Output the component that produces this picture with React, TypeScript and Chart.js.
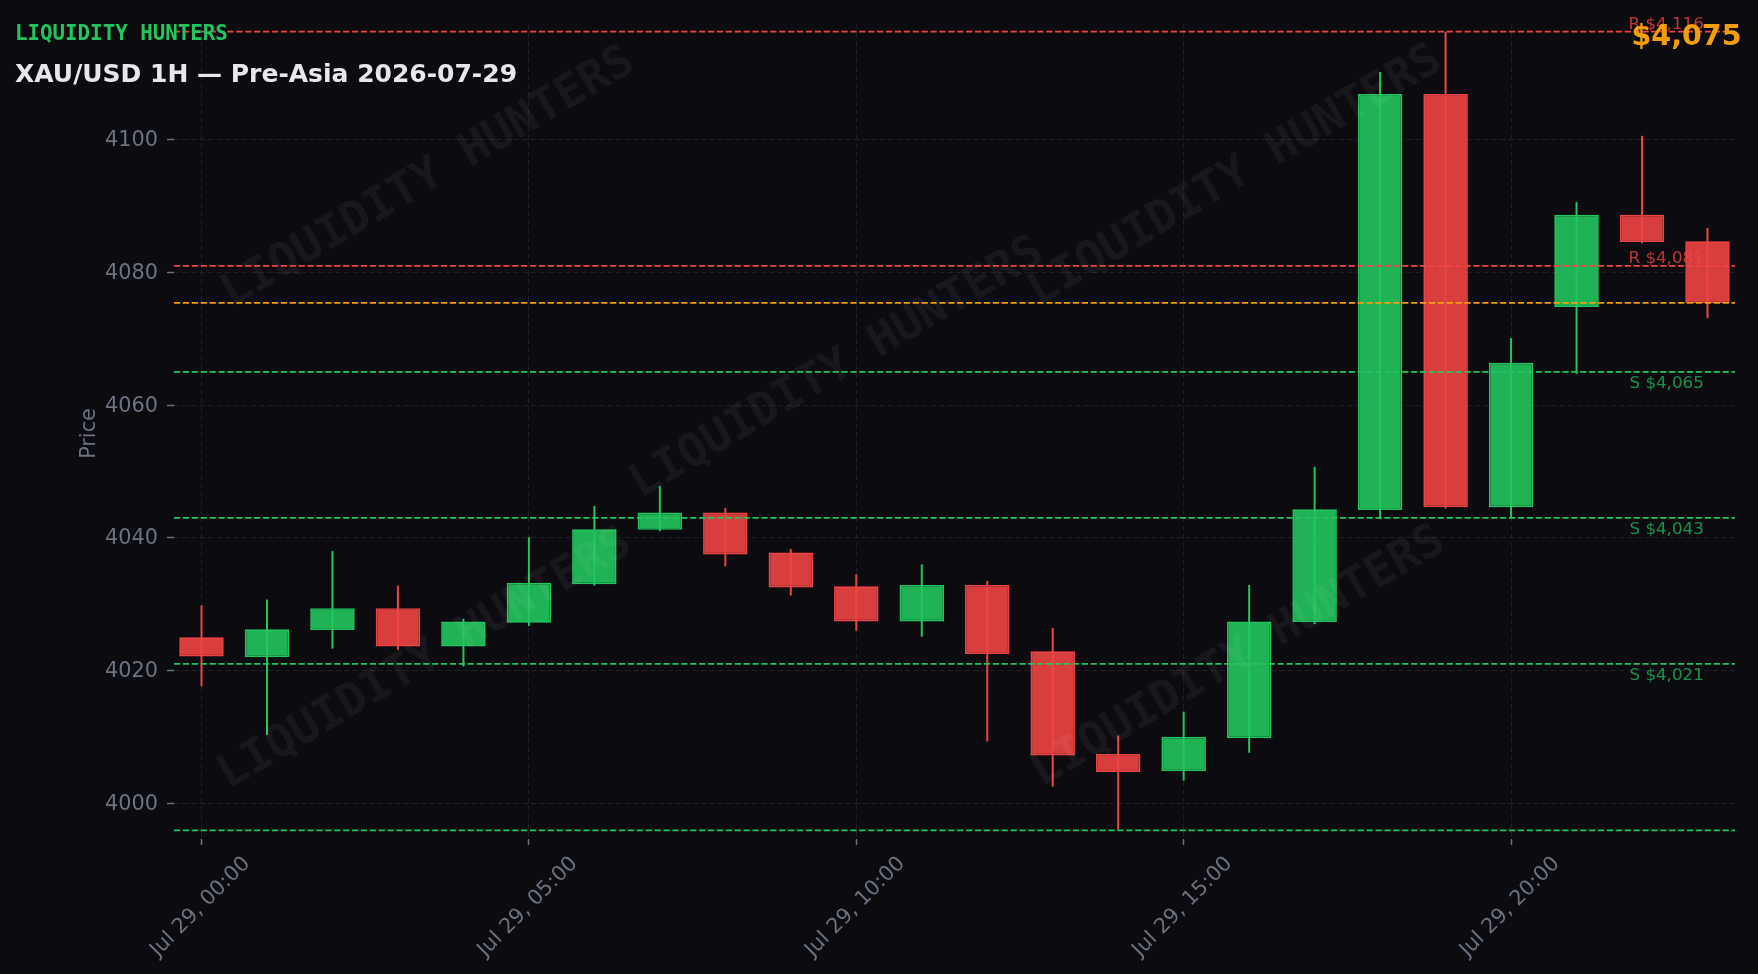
import React, { useEffect, useRef } from 'react';
import { Chart, registerables } from 'chart.js';

Chart.register(...registerables);

// ---------- data ----------
const hours = [0, 1, 2, 3, 4, 5, 6, 7, 8, 9, 10, 11, 12, 13, 14, 15, 16, 17, 18, 19, 20, 21, 22, 23];
const opens = [4025.0, 4022.0, 4026.1, 4029.4, 4023.6, 4027.2, 4033.0, 4041.2, 4043.8, 4037.8, 4032.7, 4027.4, 4032.9, 4022.9, 4007.4, 4004.8, 4009.8, 4027.3, 4044.2, 4106.9, 4044.6, 4074.8, 4088.7, 4084.7];
const highs = [4029.8, 4030.7, 4038.0, 4032.8, 4027.8, 4040.1, 4044.8, 4047.8, 4044.5, 4038.3, 4034.5, 4036.0, 4033.5, 4026.4, 4010.2, 4013.8, 4032.9, 4050.7, 4110.2, 4116.3, 4070.1, 4090.6, 4100.6, 4086.7];
const lows = [4017.6, 4010.3, 4023.3, 4023.1, 4020.6, 4026.7, 4032.8, 4041.0, 4035.7, 4031.3, 4026.0, 4025.1, 4009.3, 4002.5, 3996.0, 4003.4, 4007.6, 4027.0, 4042.8, 4044.4, 4043.0, 4064.7, 4084.4, 4073.1];
const closes = [4022.1, 4026.2, 4029.4, 4023.6, 4027.4, 4033.2, 4041.3, 4043.8, 4037.5, 4032.5, 4027.4, 4032.9, 4022.5, 4007.2, 4004.7, 4010.0, 4027.4, 4044.3, 4106.9, 4044.6, 4066.4, 4088.7, 4084.6, 4075.4];

const xTickHours = [0, 5, 10, 15, 20];
const xTickLabels = ['Jul 29, 00:00', 'Jul 29, 05:00', 'Jul 29, 10:00', 'Jul 29, 15:00', 'Jul 29, 20:00'];
const yTickValues = [4000, 4020, 4040, 4060, 4080, 4100];

const resistanceLevels = [4116.3, 4081.0];
const supportLevels = [4065.0, 4043.0, 4021.0, 3995.9];
const currentPrice = 4075.4;

const brandText = 'LIQUIDITY HUNTERS';
const titleText = 'XAU/USD 1H — Pre-Asia 2026-07-29';
const yAxisTitle = 'Price';

// ---------- style ----------
const X_MIN = -0.42;
const X_MAX = 23.42;
const Y_MIN = 3994.6;
const Y_MAX = 4117.45;

const BG = '#0b0b10';
const UP = '#22c55e';
const DOWN = '#ef4444';
const UP_FILL = 'rgba(34,197,94,0.9)';
const DOWN_FILL = 'rgba(239,68,68,0.9)';
const ORANGE = '#f59e0b';
const GRID = '#1e2029';
const TICK = '#6b7280';
const SANS = '"DejaVu Sans"';
const MONO = '"DejaVu Sans Mono"';

const watermarkSpots: [number, number][] = [
  [0.163, 0.811],
  [0.425, 0.577],
  [0.68, 0.813],
  [0.161, 0.22],
  [0.682, 0.223],
];

const money = (v: number) => '$' + Math.round(v).toLocaleString('en-US');

const overlayPlugin = {
  id: 'overlay',
  beforeDraw(chart: any) {
    const ctx = chart.ctx;
    ctx.save();
    ctx.fillStyle = BG;
    ctx.fillRect(0, 0, chart.width, chart.height);
    ctx.restore();
  },
  afterDatasetsDraw(chart: any) {
    const { ctx, chartArea: a, scales } = chart;
    const y = scales.y;
    const w = a.right - a.left;
    const h = a.bottom - a.top;

    // watermark
    ctx.save();
    ctx.font = `bold 46px ${MONO}`;
    ctx.fillStyle = 'rgba(255,255,255,0.05)';
    ctx.textAlign = 'center';
    ctx.textBaseline = 'middle';
    for (const [fx, fy] of watermarkSpots) {
      ctx.save();
      ctx.translate(a.left + fx * w, a.bottom - fy * h);
      ctx.rotate((-30.5 * Math.PI) / 180);
      ctx.fillText(brandText, 0, 0);
      ctx.restore();
    }
    ctx.restore();

    const drawLevel = (v: number, color: string) => {
      const py = y.getPixelForValue(v);
      ctx.save();
      ctx.beginPath();
      ctx.setLineDash([6.2, 2.7]);
      ctx.lineWidth = 1.7;
      ctx.strokeStyle = color;
      ctx.moveTo(a.left, py);
      ctx.lineTo(a.right, py);
      ctx.stroke();
      ctx.restore();
      return py;
    };
    const labelX = a.left + 0.98 * w;
    ctx.save();
    ctx.font = `16.7px ${SANS}`;
    ctx.textAlign = 'right';
    ctx.textBaseline = 'alphabetic';
    for (const v of resistanceLevels) {
      const py = drawLevel(v, DOWN);
      ctx.fillStyle = 'rgba(239,68,68,0.78)';
      ctx.fillText('R ' + money(v), labelX, py - 2.5);
    }
    for (const v of supportLevels) {
      const py = drawLevel(v, UP);
      if (py + 16.3 < a.bottom) {
        ctx.fillStyle = 'rgba(34,197,94,0.72)';
        ctx.fillText('S ' + money(v), labelX, py + 16.3);
      }
    }
    ctx.restore();
    drawLevel(currentPrice, ORANGE);
  },
  afterDraw(chart: any) {
    const { ctx, chartArea: a, scales } = chart;
    const x = scales.x;

    // x tick labels, rotated 45deg, centred on their tick
    ctx.save();
    ctx.font = `20.8px ${SANS}`;
    ctx.fillStyle = TICK;
    ctx.textAlign = 'center';
    ctx.textBaseline = 'middle';
    xTickHours.forEach((hv, i) => {
      const px = x.getPixelForValue(hv);
      ctx.save();
      ctx.translate(px - 1, a.bottom + 68);
      ctx.rotate(-Math.PI / 4);
      ctx.fillText(xTickLabels[i], 0, 0);
      ctx.restore();
    });
    ctx.restore();

    // y axis title
    ctx.save();
    ctx.font = `20.8px ${SANS}`;
    ctx.fillStyle = TICK;
    ctx.textAlign = 'center';
    ctx.textBaseline = 'alphabetic';
    ctx.translate(95, (a.top + a.bottom) / 2 + 2);
    ctx.rotate(-Math.PI / 2);
    ctx.fillText(yAxisTitle, 0, 0);
    ctx.restore();

    // header texts
    ctx.save();
    ctx.textBaseline = 'alphabetic';
    ctx.textAlign = 'left';
    ctx.font = `bold 20.8px ${MONO}`;
    ctx.fillStyle = UP;
    ctx.fillText(brandText, 15, 40);
    ctx.font = `bold 25px ${SANS}`;
    ctx.fillStyle = '#e8e8ec';
    ctx.fillText(titleText, 15, 81.5);
    ctx.textAlign = 'right';
    ctx.font = `bold 28.5px ${SANS}`;
    ctx.fillStyle = ORANGE;
    ctx.fillText(money(currentPrice), 1741.5, 45);
    ctx.restore();
  },
};

export default function App() {
  const ref = useRef<HTMLCanvasElement | null>(null);

  useEffect(() => {
    const canvas = ref.current;
    if (!canvas) return;
    const up = hours.map((_, i) => closes[i] >= opens[i]);
    const bodyData = hours.map((hv, i) => ({ x: hv, y: [opens[i], closes[i]] }));
    const wickData = hours.map((hv, i) => ({ x: hv, y: [lows[i], highs[i]] }));

    const gridOpts = {
      color: GRID,
      lineWidth: 1,
      drawTicks: true,
      tickLength: 7,
      tickColor: TICK,
      tickWidth: 1.5,
      tickBorderDash: [],
      offset: false,
    };

    const chart = new Chart(canvas, {
      type: 'bar',
      data: {
        datasets: [
          {
            label: 'body',
            data: bodyData as any,
            backgroundColor: up.map((u) => (u ? UP_FILL : DOWN_FILL)),
            borderColor: up.map((u) => (u ? UP : DOWN)),
            borderWidth: 1.7,
            borderSkipped: false,
            barThickness: 44.5,
            grouped: false,
            inflateAmount: 0,
          } as any,
          {
            label: 'wick',
            data: wickData as any,
            backgroundColor: up.map((u) => (u ? UP : DOWN)),
            borderWidth: 0,
            barThickness: 2,
            grouped: false,
            inflateAmount: 0,
          } as any,
        ],
      },
      options: {
        animation: false,
        responsive: false,
        devicePixelRatio: 1,
        layout: { padding: { left: 0, top: 24, right: 23, bottom: 0 } },
        plugins: {
          legend: { display: false },
          tooltip: { enabled: false },
          title: { display: false },
        },
        scales: {
          x: {
            type: 'linear',
            min: X_MIN,
            max: X_MAX,
            offset: false,
            bounds: 'data',
            afterBuildTicks: (s: any) => {
              s.ticks = xTickHours.map((v) => ({ value: v }));
            },
            afterFit: (s: any) => {
              s.height = 135;
            },
            ticks: { display: false },
            grid: { ...gridOpts, tickLength: 6 },
            border: { display: false, dash: [5.5, 3] },
          } as any,
          y: {
            type: 'linear',
            position: 'left',
            min: Y_MIN,
            max: Y_MAX,
            bounds: 'data',
            afterBuildTicks: (s: any) => {
              s.ticks = yTickValues.map((v) => ({ value: v }));
            },
            afterFit: (s: any) => {
              s.width = 174;
            },
            ticks: {
              color: TICK,
              font: { family: 'DejaVu Sans', size: 20.8 },
              padding: 9,
              labelOffset: 1,
              callback: (v: any) => String(v),
            },
            grid: gridOpts,
            border: { display: false, dash: [5.5, 3] },
          } as any,
        },
      },
      plugins: [overlayPlugin as any],
    });
    return () => chart.destroy();
  }, []);

  return (
    <div style={{ position: 'fixed', left: 0, top: 0, width: 1758, height: 974, background: BG }}>
      <canvas ref={ref} width={1758} height={974} style={{ width: 1758, height: 974, display: 'block' }} />
    </div>
  );
}
